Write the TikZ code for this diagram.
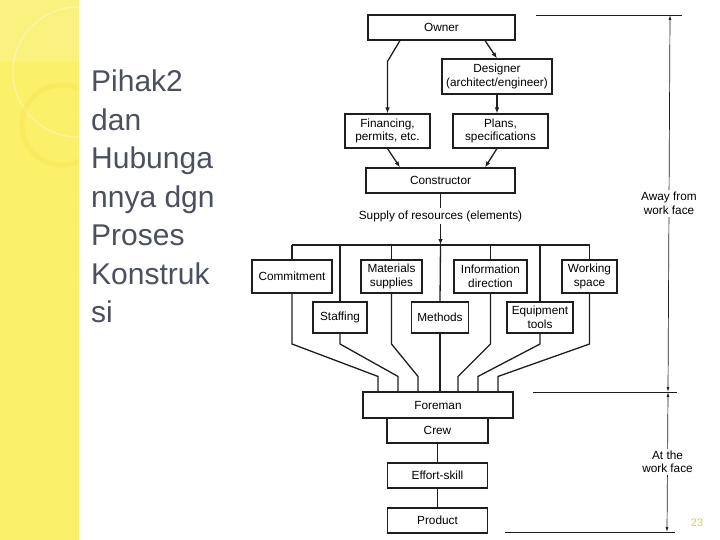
\documentclass[tikz,border=0pt]{standalone}
\usepackage{fontspec}
\setmainfont{Liberation Sans}
\usetikzlibrary{positioning,arrows.meta,calc}
\definecolor{slideYellow}{RGB}{250,240,105}
\definecolor{ringYellow}{RGB}{245,228,80}
\definecolor{slideText}{RGB}{75,80,95}
\definecolor{pageNum}{RGB}{215,205,95}
\definecolor{inkGray}{RGB}{30,30,30}

\begin{document}
\begin{tikzpicture}[
    x=1pt, y=-1pt,
    box/.style 2 args={draw=inkGray, line width=1.1pt, minimum width=#1, minimum height=#2,
        align=center, inner sep=0pt, font=\fontsize{11.8}{13.5}\selectfont},
    wire/.style={draw=inkGray, line width=1.3pt},
    flow/.style={wire, -{Latex[length=6pt,width=4.5pt]}},
    dim line/.style={draw=inkGray, line width=0.7pt},
    dim arrow/.style={dim line, {Latex[length=5pt,width=3pt]}-{Latex[length=5pt,width=3pt]}},
    note/.style={font=\fontsize{11.8}{13.5}\selectfont, align=center, inner sep=2pt, fill=white},
    heading/.style={align=left, text=slideText, inner sep=0pt, font=\fontsize{30}{38.5}\selectfont}
]
  \useasboundingbox (0,0) rectangle (720,540);

  % yellow side strip
  \begin{scope}
    \clip (0,0) rectangle (79,540);
    \fill[slideYellow] (0,0) rectangle (79,540);
    \fill[white, opacity=0.15] (0,0) rectangle (79,62);
    \draw[white, opacity=0.35, line width=1.2pt] (78,72) circle[radius=65pt];
    \draw[ringYellow, opacity=0.35, line width=5pt] (62,125) circle[radius=40pt];
  \end{scope}

  \node[heading, anchor=north west] (title) at (91,70)
    {Pihak2\\dan\\Hubunga\\nnya dgn\\Proses\\Konstruk\\si};

  % parties
  \node[box={147pt}{25pt}] (owner) at (441.5,27.5) {Owner};
  \node[box={110pt}{35pt}] (designer) at (497,76.5) {Designer\\(architect/engineer)};
  \node[box={85pt}{34pt}] (financing) at (387.5,131) {Financing,\\permits, etc.};
  \node[box={95pt}{34pt}] (plans) at (500.5,131) {Plans,\\specifications};
  \node[box={149pt}{25pt}] (constructor) at (440.5,180.5) {Constructor};
  \node[note] (supply) at (440.5,216) {Supply of resources (elements)};

  % resources
  \node[box={80pt}{33pt}] (commitment) at (292,276.5) {Commitment};
  \node[box={61pt}{33pt}] (materials) at (391.5,276.5) {Materials\\supplies};
  \node[box={73pt}{33pt}] (information) at (490.5,276.5) {Information\\direction};
  \node[box={55pt}{33pt}] (working) at (589.5,276.5) {Working\\space};
  \node[box={54pt}{31pt}] (staffing) at (340,317.5) {Staffing};
  \node[box={57pt}{31pt}] (methods) at (440,317.5) {Methods};
  \node[box={66pt}{31pt}] (equipment) at (540,317.5) {Equipment\\tools};

  % work face
  \node[box={150pt}{26pt}] (foreman) at (438,405) {Foreman};
  \node[box={101pt}{25pt}] (crew) at (437.5,430.5) {Crew};
  \node[box={100pt}{25pt}] (effort) at (437.5,475.5) {Effort-skill};
  \node[box={100pt}{25pt}] (product) at (437.5,520.5) {Product};

  \coordinate (bus) at (440.5,245);
  \coordinate (kneeHi) at (0,344);

  \draw[flow] ($(owner.south)+(-41.5,0)$) -- ($(financing.north)+(0,-52)$) -- (financing.north);
  \draw[flow] ($(owner.south)+(43.5,0)$) -- (designer.north);
  \draw[flow] (designer.south) -- (designer.south |- plans.north);
  \draw[flow] (financing.south) -- ($(constructor.north)+(-40.5,0)$);
  \draw[flow] (designer.south |- plans.south) -- ($(constructor.north)+(44.5,0)$);
  \draw[wire] (constructor.south) -- (supply.north);
  \draw[flow] (supply.south) -- (bus);

  \draw[wire] (commitment.north |- bus) -- (working.north |- bus);
  \foreach \b in {commitment,staffing,materials,information,equipment,working}
    \draw[wire] (\b.north |- bus) -- (\b.north);
  \draw[wire] (bus) -- (methods.north);
  \draw[wire] (methods.south) -- (methods.south |- foreman.north);
  \foreach \b/\dx in {commitment/-60,staffing/-40,materials/-20,information/20,equipment/40,working/60}
    \draw[wire] (\b.south) -- (\b.south |- kneeHi) -- ($(foreman.north)+(\dx,-15)$) -- ($(foreman.north)+(\dx,0)$);

  \draw[wire] (crew.south) -- (effort.north);
  \draw[wire] (effort.south) -- (product.north);

  % dimension on the right
  \coordinate (dimA) at (670,15);
  \coordinate (dimB) at (668,392);
  \coordinate (dimC) at (667,532);
  \draw[dim line] (536,15) -- (682,15);
  \draw[dim line] (533,392) -- (677,392);
  \draw[dim line] (505,532) -- (675,532);
  \draw[dim arrow] (dimA) -- node[note] (awayNote) {Away from\\work face} (dimB);
  \draw[dim arrow] (dimB) -- node[note] (atNote) {At the\\work face} (dimC);

  \node[text=pageNum, font=\fontsize{11}{13}\selectfont] (pagenum) at (697,523) {23};
\end{tikzpicture}
\end{document}
